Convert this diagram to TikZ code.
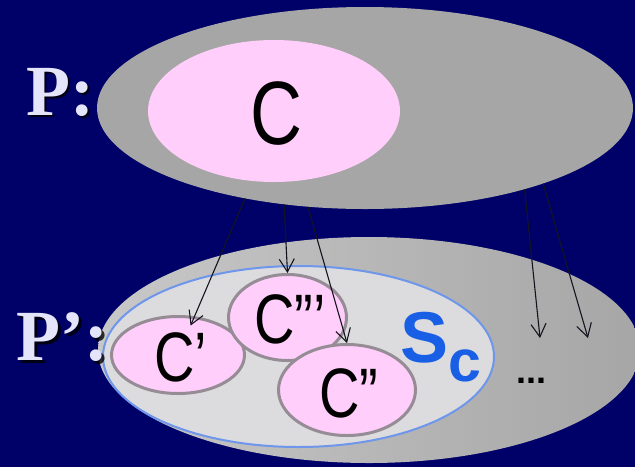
\documentclass[tikz,border=0pt]{standalone}
\usepackage{fontspec}
\setmainfont{Liberation Serif}
\newfontfamily\arialfont{Liberation Sans}
\usetikzlibrary{shapes.geometric, arrows.meta, positioning}
\definecolor{cNavy}{RGB}{0,0,105}
\definecolor{cGray}{RGB}{166,166,166}
\definecolor{cPink}{RGB}{255,206,250}
\definecolor{cRim}{RGB}{150,140,150}
\definecolor{cLight}{RGB}{220,220,222}
\definecolor{cEdge}{RGB}{110,150,235}
\definecolor{cBlue}{RGB}{25,95,230}
\definecolor{cLabel}{RGB}{228,228,250}
\definecolor{cInk}{RGB}{20,20,30}
\tikzset{
	popset/.style ={ellipse, inner sep=0pt},
	clus/.style   ={ellipse, inner sep=0pt, fill=cPink, draw=cRim, line width=3pt},
	scset/.style  ={ellipse, inner sep=0pt, fill=cLight, draw=cEdge, line width=2pt},
	ctxt/.style   ={font=\arialfont\fontsize{70}{70}\selectfont, xscale=0.8, inner sep=0pt},
	plbl/.style   ={font=\bfseries\fontsize{72}{72}\selectfont, text=cLabel, inner sep=0pt, anchor=base west},
	pshadow/.style={plbl, text=black, opacity=0.8},
	mapto/.style  ={-{Straight Barb[length=13pt, width=15pt]}, line width=1.1pt, draw=cInk},
}
\begin{document}
\begin{tikzpicture}[x=1pt, y=-1pt]
	\useasboundingbox (0,0) rectangle (635,467);
	\fill[cNavy] (0,0) rectangle (635,467);
	% population P
	\node[popset, fill=cGray, minimum width=536pt, minimum height=202pt] (P) at (365,108) {};
	\node[popset, fill=cPink, minimum width=252pt, minimum height=142pt] (C) at (274,111) {};
	\node[ctxt, font=\arialfont\fontsize{90}{90}\selectfont] (tC) at (276.5,113.5) {C};
	% population P'
	\node[popset, left color={rgb,255:red,200;green,200;blue,200}, right color={rgb,255:red,166;green,166;blue,166}, minimum width=542pt, minimum height=226pt] (Pp) at (369,350) {};
	\node[scset, minimum width=391pt, minimum height=181pt] (Sc) at (298.5,356.5) {};
	\node[clus, minimum width=133pt, minimum height=77pt] (c1) at (178,355) {};
	\node[clus, minimum width=118pt, minimum height=86pt] (c3) at (287.5,317.5) {};
	\node[clus, minimum width=137pt, minimum height=91pt] (c2) at (347,390) {};
	\node[ctxt] (t1) at (181,357) {C’};
	\node[ctxt] (t3) at (290,319) {C”’};
	\node[ctxt] (t2) at (349,393.5) {C”};
	\node[inner sep=0pt, anchor=base west, text=cBlue, font=\arialfont\bfseries] (tS) at (400,362)
		{\fontsize{72}{72}\selectfont S\raisebox{-19pt}{\fontsize{59}{59}\selectfont c}};
	\node[inner sep=0pt, anchor=base, font=\arialfont\bfseries\fontsize{36}{36}\selectfont] (dots) at (531,383) {...};
	% labels
	\node[pshadow] (lPs) at (28,117) {P:};
	\node[plbl] (lP) at (26,115) {P:};
	\node[pshadow] (lPps) at (19,363) {P’:};
	\node[plbl] (lPp) at (16,360) {P’:};
	% mappings
	\coordinate (d1) at (540,338);
	\coordinate (d2) at (588,338);
	\draw[mapto, shorten >=32pt] (P.-143) -- (c1.center);
	\draw[mapto] (P.-130.8) -- (c3.north);
	\draw[mapto] (P.-120.5) -- (c2.north);
	\draw[mapto] (P.-27.5) -- (d1);
	\draw[mapto] (P.-23) -- (d2);
\end{tikzpicture}
\end{document}
